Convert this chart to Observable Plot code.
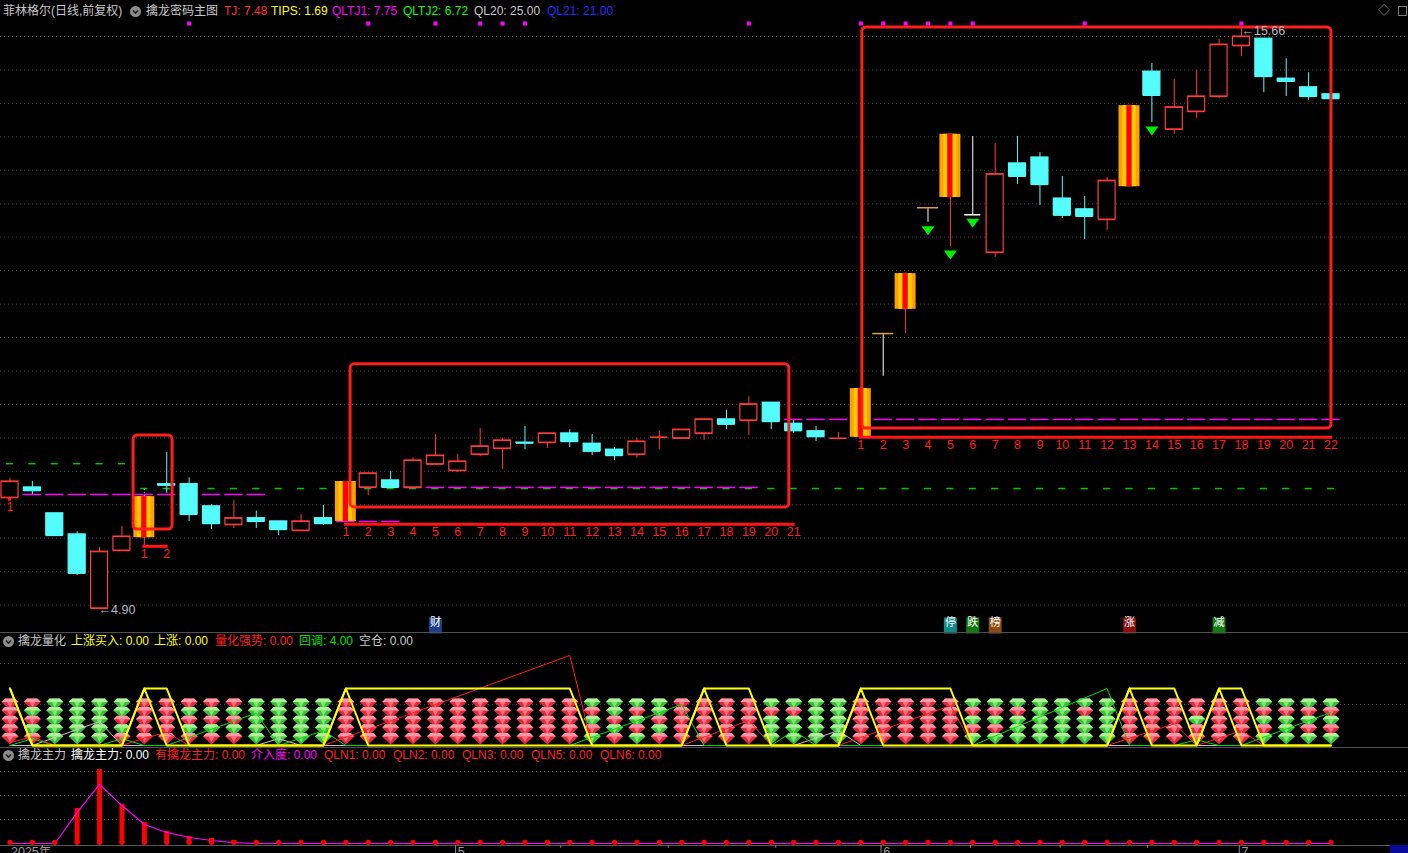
<!DOCTYPE html>
<html><head><meta charset="utf-8">
<script src="https://cdn.jsdelivr.net/npm/d3@7"></script>
<script src="https://cdn.jsdelivr.net/npm/@observablehq/plot@0.6"></script>
<style>
html,body{margin:0;padding:0;background:#000;width:1408px;height:853px;overflow:hidden;}
#root{position:relative;width:1408px;height:853px;background:#000;font-family:"Liberation Sans","Noto Sans CJK SC",sans-serif;font-size:12px;}
.t{position:absolute;white-space:nowrap;line-height:14px;font-size:12px;}
.sep{position:absolute;left:0;width:1408px;height:1px;background:#505050;}
svg{position:absolute;left:0;}
</style></head><body><div id="root"></div>
<script>
// ---------------- DATA ----------------
// daily candles (price), index 0..59
const openP  = [6.97,7.16,6.68,6.29,4.92,5.99,6.23,7.22,7.22,6.81, 6.47,6.59,6.53,6.36,6.59,6.53,7.16,7.29,7.16,7.59, 7.47,7.77,7.88,7.99,7.99,8.16,7.97,7.86,7.77,8.09, 8.07,8.16,8.42,8.40,8.73,8.34,8.20,8.07,8.09,10.01, 10.46,12.34,12.53,12.21,11.51,13.16,13.27,12.51,12.31,12.12, 12.73,14.86,13.79,14.12,14.40,15.34,15.47,14.73,14.57,14.44];
const highP  = [7.33,7.27,6.68,6.34,6.05,6.44,7.14,7.81,7.34,6.84, 6.92,6.72,6.53,6.66,6.83,7.27,7.42,7.46,7.71,8.14, 7.77,8.25,8.07,8.29,8.16,8.23,8.14,7.90,8.07,8.21, 8.23,8.42,8.59,8.84,8.73,8.40,8.29,8.18,8.99,10.01, 11.12,12.34,13.70,13.66,13.53,13.66,13.36,12.92,12.55,12.90, 14.23,15.01,14.72,14.88,15.46,15.66,15.47,15.10,14.84,14.44];
const lowP   = [6.94,7.03,6.27,5.53,4.90,5.99,6.07,7.05,6.53,6.38, 6.40,6.40,6.27,6.36,6.46,6.53,7.01,7.14,7.16,7.59, 7.44,7.73,7.49,7.86,7.88,7.90,7.75,7.66,7.70,7.86, 8.05,8.03,8.23,8.12,8.23,8.16,8.01,8.07,8.09,9.22, 10.01,12.07,11.62,12.21,11.42,12.77,12.38,12.14,11.75,11.92, 12.73,13.92,13.70,13.99,14.36,15.14,14.47,14.40,14.33,14.36];
const closeP = [7.27,7.10,6.27,5.57,5.97,6.25,6.99,7.20,6.66,6.49, 6.59,6.53,6.38,6.53,6.49,7.27,7.42,7.16,7.66,7.75, 7.64,7.92,8.03,7.98,8.16,8.01,7.83,7.75,8.01,8.09, 8.23,8.42,8.33,8.70,8.38,8.21,8.10,8.07,8.99,10.01, 11.12,12.34,13.70,12.21,12.96,12.92,12.77,12.20,12.18,12.84, 14.23,14.42,14.20,14.40,15.36,15.51,14.77,14.68,14.40,14.36];
const signalBars = [6,15,38,40,42,50];   // orange signal bars
const flatYellow = [39,41];              // one-price bars with yellow tick
const flatWhite  = [43];
const supportMagenta = [7.03,7.03,7.03,7.03,7.03,7.03,7.03,7.03,7.03,7.03, 7.03,7.03,6.53,6.53,6.53,6.53,6.53,6.53,7.16,7.16, 7.16,7.16,7.16,7.16,7.16,7.16,7.16,7.16,7.16,7.16, 7.16,7.16,7.16,7.16,8.42,8.42,8.42,8.42,8.42,8.42, 8.42,8.42,8.42,8.42,8.42,8.42,8.42,8.42,8.42,8.42, 8.42,8.42,8.42,8.42,8.42,8.42,8.42,8.42,8.42,8.42];
const supportGreen = [7.60,7.60,7.60,7.60,7.60,7.60,7.14,7.14,7.14,7.14, 7.14,7.14,7.14,7.14,7.14,7.14,7.14,7.14,7.14,7.14, 7.14,7.14,7.14,7.14,7.14,7.14,7.14,7.14,7.14,7.14, 7.14,7.14,7.14,7.14,7.14,7.14,7.14,7.14,7.14,7.14, 7.14,7.14,7.14,7.14,7.14,7.14,7.14,7.14,7.14,7.14, 7.14,7.14,7.14,7.14,7.14,7.14,7.14,7.14,7.14,7.14];
const topDots = [8,16,19,21,22,23,33,38,39,40,41,42,43,48,55];
const downArrows = [41,42,43,51];
const segStart = [0,6,15,38];
const segLen   = [1,2,21,22];
const segLevel = [6.94,6.07,6.48,8.09];
const boxX1 = [5.52,15.21,38.07], boxX2 = [7.26,34.81,59.02];
const boxLo = [6.38,6.79,8.25], boxHi = [8.12,9.44,15.68];
const eventIdx = [19,42,43,44,50,54];
const eventText = ["财","停","跌","榜","涨","减"];
const eventColor = ["#1f3f86","#138a8a","#137a13","#8a4c12","#8a1010","#137a13"];
const lowLabel = "←4.90", lowIdx = 4;
const highLabel = "←15.66", highIdx = 55;

// header texts
const mainHdrX = [3,146,224,271,332,403,474,547];
const mainHdrT = ["菲林格尔(日线,前复权)","擒龙密码主图","TJ: 7.48","TIPS: 1.69","QLTJ1: 7.75","QLTJ2: 6.72","QL20: 25.00","QL21: 21.00"];
const mainHdrC = ["#c8c8c8","#c8c8c8","#ff3030","#ffff00","#ff00ff","#00ff00","#c8c8c8","#2a2aff"];
const p2HdrX = [18,71,154,215,299,359];
const p2HdrT = ["擒龙量化","上涨买入: 0.00","上涨: 0.00","量化强势: 0.00","回调: 4.00","空仓: 0.00"];
const p2HdrC = ["#c8c8c8","#ffff00","#ffff00","#ff2020","#00e000","#c8c8c8"];
const p3HdrX = [18,71,155,251,324,393,462,531,600];
const p3HdrT = ["擒龙主力","擒龙主力: 0.00","有擒龙主力: 0.00","介入度: 0.00","QLN1: 0.00","QLN2: 0.00","QLN3: 0.00","QLN5: 0.00","QLN6: 0.00"];
const p3HdrC = ["#c8c8c8","#ffffff","#ff2020","#ff00ff","#ff2020","#ff2020","#ff2020","#ff2020","#ff2020"];

// panel 2 (擒龙量化)
const riseA = [1,0,0,0,0,0,1,1,0,0, 0,0,0,0,0,1,1,1,1,1, 1,1,1,1,1,1,0,0,0,0, 0,1,1,1,0,0,0,0,1,1, 1,1,1,0,0,0,0,0,0,0, 1,1,1,0,1,1,0,0,0,0];
const buyB  = [1,0,0,0,0,0,1,0,0,0, 0,0,0,0,0,1,0,0,0,0, 0,0,0,0,0,0,0,0,0,0, 0,1,0,0,0,0,0,0,1,0, 0,0,0,0,0,0,0,0,0,0, 1,0,0,0,1,0,0,0,0,0];
const gemCode = ["RRRRR","RGRGR","GGGGG","GGGGG","GGGGG","GGRGR","RRRRR","RRRRR","RGRGR","RGRGR",
 "RGRGR","GGGGG","GGGGG","GGGGG","GGGGG","RRRRR","RRRRR","RRRRR","RRRRR","RRRRR",
 "RRRRR","RRRRR","RRRRR","RRRRR","RRRRR","RRRRR","GRGRG","GGRGR","GRGRG","GGRGR",
 "RRRRR","RRRRR","RRRRR","RRRRR","GRGGG","GRGGG","GGGGG","GGGGG","RRRRR","RRRRR",
 "RRRRR","RRRRR","RRRRR","GRGRG","GRGRG","GRGGG","GGGGG","GGGGG","GRGGG","GGGGG",
 "RRRRR","RRRRR","RRRRR","RRGRR","RRRRR","RRRRR","GRGRG","GRGGG","GRGRG","GRGRG"];
const redVi = [0,1,2,5,6,7,8,14,25,26,30,33,34,37,42,43,49,52,53,55,56,59];
const redVv = [0.05,0.15,0,0,0.13,0.23,0,0,1.58,0,0,0.44,0,0,0.70,0,0,0.38,0,0.26,0,0];
const greenVi = [0,1,2,4,5,6,7,11,12,14,15,25,30,31,34,35,36,43,49,50,52,53,54,55,59];
const greenVv = [0,0.12,0,0,0.12,0,0,0.57,0,0.26,0,0,0.72,0,0,0.26,0,0,1.0,0,0,0.1,0,0,0.58];
const grayVi = [0,1,4,5,11,12,13,35,37,38,59];
const grayVv = [0,0,0.42,0,0,0.12,0,0,0.26,0,0];

// panel 3 (擒龙主力)
const zhuliBar = [0,0,0,1.46,3.08,1.63,0.875,0.5,0.29,0.21, 0.125,0,0,0,0,0,0,0,0,0, 0,0,0,0,0,0,0,0,0,0, 0,0,0,0,0,0,0,0,0,0, 0,0,0,0,0,0,0,0,0,0, 0,0,0,0,0,0,0,0,0,0];
const jieruLine = [0,0,0,1.3,2.46,1.58,0.79,0.46,0.25,0.125, 0.04,0,0,0,0,0,0,0,0,0, 0,0,0,0,0,0,0,0,0,0, 0,0,0,0,0,0,0,0,0,0, 0,0,0,0,0,0,0,0,0,0, 0,0,0,0,0,0,0,0,0,0];
const monthIdx = [20,39,55];
const monthLbl = ["5","6","7"];
const yearLbl = "2025年";
const weekTickIdx = [24.6,29.4,34.2,42.9,46.9,50.8];

// ---------------- LAYOUT ----------------
const W = 1408, STEP = 22.39, X0 = 9.5;
const xDom = [-X0/STEP, (W - X0)/STEP];
const FONT = '"Liberation Sans","Noto Sans CJK SC",sans-serif';
const RED = "#ff3c3c", CYAN = "#54fcfc";
const root = document.getElementById("root");

function mk(top, opts) {
  const svg = Plot.plot(Object.assign({
    width: W, margin: 0,
    style: {background: "transparent", fontFamily: FONT, fontSize: "12px", overflow: "visible"},
    color: {type: "identity"},
    x: {type: "linear", domain: xDom, axis: null}
  }, opts));
  svg.style.top = top + "px";
  root.appendChild(svg);
  return svg;
}

const idx = d3.range(openP.length);
const K = idx.map(i => ({i, o: openP[i], h: highP[i], l: lowP[i], c: closeP[i],
  k: signalBars.includes(i) ? "S" : flatYellow.includes(i) ? "Y" : flatWhite.includes(i) ? "W" : (closeP[i] >= openP[i] ? "U" : "D")}));
const N = K.filter(d => d.k === "U" || d.k === "D");
const S = K.filter(d => d.k === "S");
const Yd = K.filter(d => d.k === "Y");
const Wd = K.filter(d => d.k === "W");
const cc = d => d.k === "U" ? RED : CYAN;
const HW = 0.38;

// main price scale: 54 px per yuan, 4.90 at y=609
const PX = 54, yMainDom = [4.90 - 23/PX, 4.90 + 609/PX];
const gridP = d3.range(18).map(k => 4.90 + (573 - 33.45*k)/PX);

const triDown = {draw(ctx){ctx.moveTo(-6.5,-4.5);ctx.lineTo(6.5,-4.5);ctx.lineTo(0,4.5);ctx.closePath();}};
const tagBox = {draw(ctx){ctx.rect(-6.5,-8,13,16);}};

const segs = segStart.map((s, j) => ({s, e: s + segLen[j] - 1, y: segLevel[j]}));
const segLabels = segs.flatMap(g => d3.range(g.s, g.e + 1).map(i => ({i, y: g.y, t: String(i - g.s + 1)})));
const boxes = boxX1.map((x, j) => ({x1: x, x2: boxX2[j], y1: boxLo[j], y2: boxHi[j]}));

mk(0, {
  height: 632,
  y: {domain: yMainDom, axis: null},
  marks: [
    Plot.ruleY(gridP, {stroke: "#4a4a4a", strokeDasharray: "1,3"}),
    Plot.ruleY(K, {x1: d => d.i - 0.16, x2: d => d.i + 0.16, y: d => supportGreen[d.i], stroke: "#00c800", strokeWidth: 1.5}),
    Plot.ruleY(K, {x1: d => d.i - 0.41, x2: d => d.i + 0.41, y: d => supportMagenta[d.i], stroke: "#ff00ff", strokeWidth: 1.5}),
    // normal candles
    Plot.ruleX(N, {x: "i", y1: "l", y2: "h", stroke: cc}),
    Plot.rect(N, {x1: d => d.i - HW, x2: d => d.i + HW, y1: "o", y2: "c", fill: d => d.k === "U" ? "#000" : CYAN, stroke: cc, strokeWidth: 1.2}),
    Plot.ruleY(N, {x1: d => d.i - HW, x2: d => d.i + HW, y: "c", stroke: cc, strokeWidth: 1.2}),
    Plot.ruleY(N, {x1: d => d.i - HW, x2: d => d.i + HW, y: "o", stroke: cc, strokeWidth: 1.2}),
    // signal bars
    Plot.ruleX(S, {x: "i", y1: "l", y2: "o", stroke: RED}),
    Plot.ruleX(S, {x: "i", y1: "c", y2: "h", stroke: "#dddddd", strokeDasharray: "1,2"}),
    Plot.rect(S, {x1: d => d.i - 0.468, x2: d => d.i + 0.468, y1: "o", y2: "c", fill: "#ffa000"}),
    Plot.rect(S, {x1: d => d.i - 0.296, x2: d => d.i + 0.296, y1: "o", y2: "c", fill: "#ffcc00"}),
    Plot.rect(S, {x1: d => d.i - 0.118, x2: d => d.i + 0.118, y1: "o", y2: "c", fill: "#ff0000"}),
    // one-price / doji bars
    Plot.ruleX(Yd, {x: "i", y1: "l", y2: "h", stroke: "#ffffff"}),
    Plot.ruleY(Yd, {x1: d => d.i - 0.47, x2: d => d.i + 0.47, y: "c", stroke: "#e0a030", strokeWidth: 1.5}),
    Plot.ruleX(Wd, {x: "i", y1: "l", y2: "h", stroke: "#ffffff"}),
    Plot.ruleY(Wd, {x1: d => d.i - 0.36, x2: d => d.i + 0.36, y: "c", stroke: "#ffffff", strokeWidth: 1.5}),
    // down arrows
    Plot.dot(downArrows, {x: d => d, y: d => lowP[d], dy: 8.5, symbol: triDown, r: 5, fill: "#00ee00"}),
    // top markers
    Plot.dot(topDots, {x: d => d, frameAnchor: "top", dy: 23, symbol: "square", r: 2.3, fill: "#ff00ff"}),
    // event tags
    Plot.dot(eventIdx, {x: d => d, frameAnchor: "bottom", dy: -7, symbol: tagBox, r: 5, fill: (d, j) => eventColor[j]}),
    Plot.text(eventIdx, {x: d => d, frameAnchor: "bottom", dy: -7, text: (d, j) => eventText[j], fill: "#ffffff", fontSize: 11}),
    // highlight boxes
    Plot.rect(boxes, {x1: "x1", x2: "x2", y1: "y1", y2: "y2", fill: "none", stroke: "#ff1e1e", strokeWidth: 3, rx: 4}),
    // count segments
    Plot.ruleY(segs, {x1: "s", x2: "e", y: "y", stroke: "#ff1414", strokeWidth: 3, strokeLinecap: "square"}),
    Plot.text(segLabels, {x: "i", y: "y", text: "t", dy: 8, fill: "#ff1e1e", fontSize: 12.5, lineAnchor: "middle"}),
    // extreme labels
    Plot.text([lowIdx], {x: d => d, y: d => lowP[d], text: () => lowLabel, textAnchor: "start", dx: -1, fill: "#b8b8c4", fontSize: 12.5}),
    Plot.text([highIdx], {x: d => d, y: d => highP[d], text: () => highLabel, textAnchor: "start", dx: 0, dy: 3, fill: "#b8b8c4", fontSize: 12.5})
  ]
});

// panel 2
const gems = idx.flatMap(i => d3.range(5).map(k => ({i, k, c: gemCode[i][k]})));
const gemRowY = k => 0.737 - 0.151 * k;
const gemBase = {draw(ctx){ctx.moveTo(-5,-5);ctx.lineTo(5,-5);ctx.lineTo(8.5,-1.5);ctx.lineTo(0,6.5);ctx.lineTo(-8.5,-1.5);ctx.closePath();}};
const gemCrown = {draw(ctx){ctx.moveTo(-5,-5);ctx.lineTo(5,-5);ctx.lineTo(8.5,-1.5);ctx.lineTo(-8.5,-1.5);ctx.closePath();}};
const gemFacet = {draw(ctx){ctx.moveTo(-3,-1.5);ctx.lineTo(3,-1.5);ctx.lineTo(0,4);ctx.closePath();}};
const redV = redVi.map((i, j) => ({i, v: redVv[j]}));
const greenV = greenVi.map((i, j) => ({i, v: greenVv[j]}));
const grayV = grayVi.map((i, j) => ({i, v: grayVv[j]}));

mk(632, {
  height: 115,
  y: {domain: [-2/57, 113/57], axis: null},
  marks: [
    Plot.ruleY([1.4386, 0.719], {stroke: "#4a4a4a", strokeDasharray: "1,3"}),
    Plot.dot(gems, {x: "i", y: d => gemRowY(d.k), symbol: gemBase, r: 5, fill: d => d.c === "R" ? "#e8283c" : "#38c038"}),
    Plot.dot(gems, {x: "i", y: d => gemRowY(d.k), symbol: gemFacet, r: 5, fill: d => d.c === "R" ? "#ff7080" : "#80e870"}),
    Plot.dot(gems, {x: "i", y: d => gemRowY(d.k), symbol: gemCrown, r: 5, fill: d => d.c === "R" ? "#ff9aa6" : "#b0f298"}),
    Plot.line(grayV, {x: "i", y: "v", stroke: "#c8c8c8", strokeWidth: 1}),
    Plot.line(greenV, {x: "i", y: "v", stroke: "#00e000", strokeWidth: 1}),
    Plot.line(redV, {x: "i", y: "v", stroke: "#ff1e1e", strokeWidth: 1}),
    Plot.line(idx, {x: d => d, y: d => riseA[d], stroke: "#ffff00", strokeWidth: 2}),
    Plot.line(idx, {x: d => d, y: d => buyB[d], stroke: "#ffff00", strokeWidth: 2})
  ]
});

// panel 3
mk(747, {
  height: 106,
  y: {domain: [-10/24, 4.0], axis: null},
  marks: [
    Plot.ruleY([1, 2, 3], {stroke: "#4a4a4a", strokeDasharray: "1,3"}),
    Plot.ruleX(idx.filter(i => zhuliBar[i] > 0), {x: d => d, y1: 0, y2: d => zhuliBar[d], stroke: "#ff0000", strokeWidth: 5}),
    Plot.line(idx, {x: d => d, y: d => jieruLine[d], stroke: "#ff00ff", strokeWidth: 1.2}),
    Plot.dot(idx, {x: d => d, y: 0.05, r: 2.6, fill: "#ff0000"}),
    Plot.ruleY([-0.083], {stroke: "#5a5a5a"}),
    Plot.ruleX(monthIdx, {x: d => d - 0.1, y1: -0.083, y2: -0.42, stroke: "#8a8a8a"}),
    Plot.ruleX(weekTickIdx, {x: d => d, y1: -0.083, y2: -0.2, stroke: "#8a8a8a"}),
    Plot.text(monthIdx, {x: d => d, frameAnchor: "bottom", dy: -6, lineAnchor: "top", textAnchor: "start", text: (d, j) => monthLbl[j], fill: "#9a9a9a", fontSize: 12.5}),
    Plot.text([0], {x: d => d, frameAnchor: "bottom", dy: -6, lineAnchor: "top", textAnchor: "start", dx: 1, text: () => yearLbl, fill: "#9a9a9a", fontSize: 12.5})
  ]
});

// ---------------- HTML chrome (headers, separators) ----------------
function sep(y) { const d = document.createElement("div"); d.className = "sep"; d.style.top = y + "px"; root.appendChild(d); }
sep(632); sep(747);
function icon(x, y) {
  const d = document.createElement("div");
  d.style.cssText = `position:absolute;left:${x}px;top:${y}px;width:11px;height:11px;`;
  d.innerHTML = '<svg width="11" height="11" style="position:static"><circle cx="5.5" cy="5.5" r="5.5" fill="#8c8c8c"/><polyline points="3,4.5 5.5,7 8,4.5" fill="none" stroke="#222" stroke-width="1.6"/></svg>';
  root.appendChild(d);
}
function header(xs, ts, cs, yc) {
  xs.forEach((x, j) => {
    const s = document.createElement("span");
    s.className = "t"; s.textContent = ts[j];
    s.style.left = x + "px"; s.style.top = (yc - 7) + "px"; s.style.color = cs[j];
    root.appendChild(s);
  });
}
header(mainHdrX, mainHdrT, mainHdrC, 11);
icon(130, 6);
header(p2HdrX, p2HdrT, p2HdrC, 641);
icon(3, 636);
header(p3HdrX, p3HdrT, p3HdrC, 755);
icon(3, 750);
// top-right controls and bottom-right box
const tr = document.createElement("div");
tr.style.cssText = "position:absolute;left:1378px;top:4px;color:#9a9a9a;font-size:12px;line-height:14px;";
tr.textContent = "◇";
root.appendChild(tr);
const tr2 = document.createElement("div");
tr2.style.cssText = "position:absolute;left:1398px;top:6px;width:9px;height:10px;border:1px solid #7a7a7a;box-sizing:border-box;";
root.appendChild(tr2);
const br = document.createElement("div");
br.style.cssText = "position:absolute;left:1390px;top:845px;width:18px;height:8px;background:#0a0a9a;";
root.appendChild(br);
</script></body></html>
